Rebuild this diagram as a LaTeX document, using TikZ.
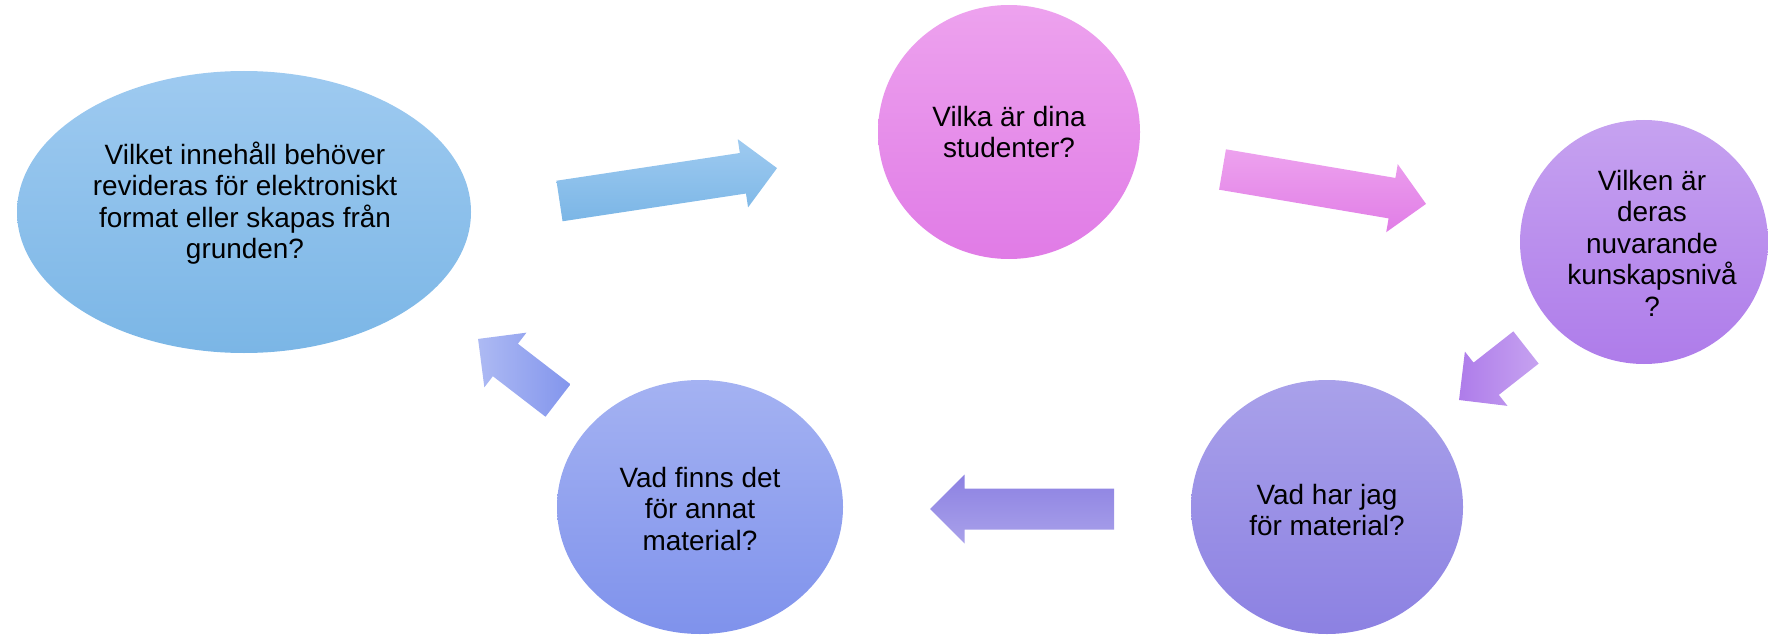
\documentclass[tikz,border=0pt]{standalone}
\usepackage{fontspec}
\setmainfont{Liberation Sans}
\usetikzlibrary{shapes.geometric}
\definecolor{blueT}{HTML}{9ECAF0}
\definecolor{blueB}{HTML}{7BB6E6}
\definecolor{pinkT}{HTML}{EDA2EE}
\definecolor{pinkB}{HTML}{E07BE6}
\definecolor{violT}{HTML}{C6A2F0}
\definecolor{violB}{HTML}{AE7CEA}
\definecolor{lavT}{HTML}{A9A1EA}
\definecolor{lavB}{HTML}{8C81E2}
\definecolor{periT}{HTML}{A4B2F2}
\definecolor{periB}{HTML}{7F92EC}
\begin{document}
\begin{tikzpicture}[x=0.02cm,y=-0.02cm,
  bubble/.style={ellipse, inner sep=0pt, draw=none},
  txt/.style={align=center, inner sep=0pt, text=black,
    font=\fontsize{15.9}{17.9}\selectfont},
  barrow/.pic={\pgfmathsetmacro\hb{#1-34.5}
    \path[pic actions] (0,-20.5) -- (\hb,-20.5) -- (\hb,-34.5) -- (#1,0)
      -- (\hb,34.5) -- (\hb,20.5) -- (0,20.5) -- cycle;}]
\useasboundingbox (0,0) rectangle (1768,635);

% bubbles
\node[bubble, minimum width=454*0.02cm, minimum height=282*0.02cm,
  top color=blueT, bottom color=blueB] (e1) at (244,212) {};
\node[bubble, minimum width=262*0.02cm, minimum height=254*0.02cm,
  top color=pinkT, bottom color=pinkB] (e2) at (1009,132) {};
\node[bubble, minimum width=248*0.02cm, minimum height=244*0.02cm,
  top color=violT, bottom color=violB] (e3) at (1644,242) {};
\node[bubble, minimum width=272*0.02cm, minimum height=254*0.02cm,
  top color=lavT, bottom color=lavB] (e4) at (1327,507) {};
\node[bubble, minimum width=286*0.02cm, minimum height=254*0.02cm,
  top color=periT, bottom color=periB] (e5) at (700,507) {};

% texts
\node[txt] (t1) at (245,203) {Vilket innehåll behöver\\revideras för elektroniskt\\format eller skapas från\\grunden?};
\node[txt] (t2) at (1009,132) {Vilka är dina\\studenter?};
\node[txt] (t3) at (1652,243) {Vilken är\\deras\\nuvarande\\kunskapsnivå\\?};
\node[txt] (t4) at (1327,510) {Vad har jag\\för material?};
\node[txt] (t5) at (700,509) {Vad finns det\\för annat\\material?};

% block arrows
\pic[rotate=8.6, top color=blueT, bottom color=blueB] (a1) at (559.5,201) {barrow=220};
\pic[rotate=-9.6, top color=pinkT, bottom color=pinkB!95!pinkT] (a2) at (1222.5,169.5) {barrow=206.4};
\pic[rotate=218.1, left color=violB, right color=violT] (a3) at (1526,347.5) {barrow=85.1};
\pic[rotate=180, top color=lavB, bottom color=lavT] (a4) at (1114,509) {barrow=184};
\pic[rotate=142.4, left color=periT!90!white, right color=periB!90!periT] (a5) at (558,400.5) {barrow=100.9};
\end{tikzpicture}
\end{document}
